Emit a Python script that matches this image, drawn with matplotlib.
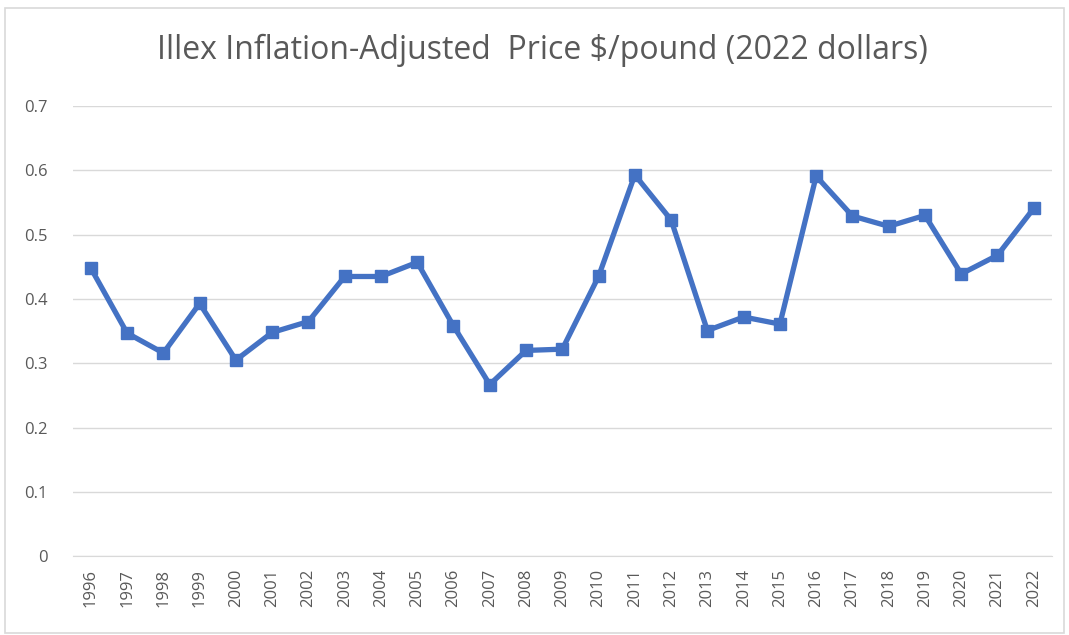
import matplotlib
matplotlib.use("Agg")
import matplotlib.pyplot as plt
from matplotlib.patches import Rectangle

years = [str(y) for y in range(1996, 2023)]
prices = [0.448, 0.347, 0.316, 0.393, 0.305, 0.348, 0.365, 0.435, 0.435, 0.457,
          0.358, 0.267, 0.320, 0.322, 0.435, 0.593, 0.523, 0.351, 0.372, 0.361,
          0.591, 0.529, 0.513, 0.530, 0.439, 0.468, 0.541]
yticks = [0, 0.1, 0.2, 0.3, 0.4, 0.5, 0.6, 0.7]
ytick_labels = ["0", "0.1", "0.2", "0.3", "0.4", "0.5", "0.6", "0.7"]
title = "Illex Inflation-Adjusted  Price $/pound (2022 dollars)"

fig = plt.figure(figsize=(10.69, 6.35), dpi=100)
ax = fig.add_axes([0.068, 0.124, 0.916, 0.709])

x = list(range(len(years)))
ax.plot(x, prices, color="#4472C4", linewidth=3.8, marker="s", markersize=8,
        markerfacecolor="#4472C4", markeredgecolor="#4472C4", solid_joinstyle="round")

ax.set_xlim(-0.5, len(years) - 0.5)
ax.set_ylim(0, 0.7)
ax.set_yticks(yticks)
ax.set_yticklabels(ytick_labels)
ax.set_xticks(x)
ax.set_xticklabels(years, rotation=90)
ax.grid(axis="y", color="#D9D9D9", linewidth=1)
ax.set_axisbelow(True)
for s in ["top", "right", "left"]:
    ax.spines[s].set_visible(False)
ax.spines["bottom"].set_color("#D9D9D9")
ax.tick_params(axis="both", length=0, colors="#595959", labelsize=12)
ax.tick_params(axis="y", pad=18)
ax.tick_params(axis="x", pad=9)
for lab in ax.get_xticklabels() + ax.get_yticklabels():
    lab.set_fontfamily(["Open Sans", "DejaVu Sans"])

fig.text(0.507, 0.92, title, ha="center", va="center", fontsize=23,
         color="#595959", family=["Open Sans", "DejaVu Sans"])

fig.patches.append(Rectangle((0.005, 0.003), 0.99, 0.985, transform=fig.transFigure,
                             fill=False, edgecolor="#D9D9D9", linewidth=1.2))

fig.savefig("out.png", dpi=100)
